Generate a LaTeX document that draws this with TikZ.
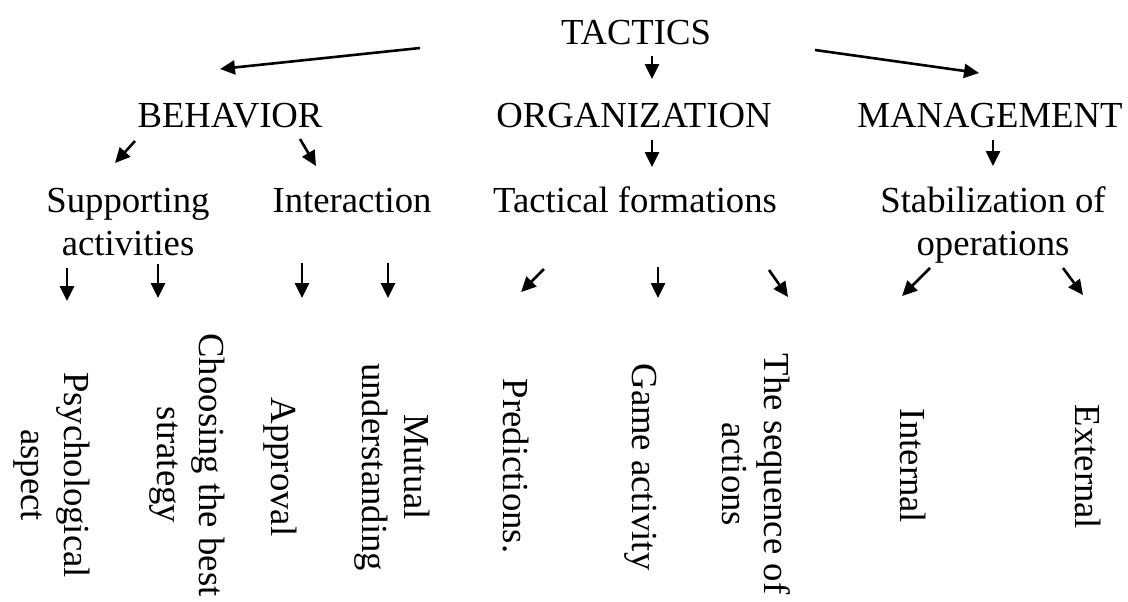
\documentclass[tikz,border=0pt]{standalone}
\usepackage{fontspec}
\setmainfont{Liberation Serif}
\usetikzlibrary{arrows.meta}
\begin{document}
\begin{tikzpicture}[x=0.5pt,y=-0.5pt,
  lbl/.style={inner sep=0pt,font=\fontsize{18.35}{21.2}\selectfont,align=center},
  vlbl/.style={lbl,rotate=-90,anchor=center},
  arr/.style={line width=1.3pt,-{Triangle[length=7.5pt,width=7pt]}}]
\useasboundingbox (0,0) rectangle (1128,601);
% level 0
\node[lbl,anchor=base] (tactics) at (636,44) {TACTICS};
% level 1
\node[lbl,anchor=base] (behavior) at (230,127) {BEHAVIOR};
\node[lbl,anchor=base] (organization) at (634,127) {ORGANIZATION};
\node[lbl,anchor=base] (management) at (990,127) {MANAGEMENT};
% level 2
\node[lbl,anchor=base] (supporting) at (128,255) {Supporting\\activities};
\node[lbl,anchor=base] (interaction) at (352,212) {Interaction};
\node[lbl,anchor=base] (formations) at (635,212) {Tactical formations};
\node[lbl,anchor=base] (stabilization) at (993,255) {Stabilization of\\operations};
% level 3 (vertical)
\node[vlbl] (psych) at (52,475) {Psychological\\aspect};
\node[vlbl] (choosing) at (187,465) {Choosing the best\\strategy};
\node[vlbl] (approval) at (280,467) {Approval};
\node[vlbl] (mutual) at (392,467) {Mutual\\understanding};
\node[vlbl] (predictions) at (516,466) {Predictions.};
\node[vlbl] (game) at (641,467) {Game activity};
\node[vlbl] (sequence) at (756,474) {The sequence of\\actions};
\node[vlbl] (internal) at (913,466) {Internal};
\node[vlbl] (external) at (1088,467) {External};
% arrow end points
\coordinate (t1s) at (420,48);  \coordinate (t1e) at (220,69);
\coordinate (t2s) at (652,56);  \coordinate (t2e) at (652,79);
\coordinate (t3s) at (815,50);  \coordinate (t3e) at (979,73);
\coordinate (b1s) at (135,141); \coordinate (b1e) at (115,163);
\coordinate (b2s) at (300,139); \coordinate (b2e) at (316,166);
\coordinate (o1s) at (652,140); \coordinate (o1e) at (652,167);
\coordinate (m1s) at (993,140); \coordinate (m1e) at (993,166);
\coordinate (s1s) at (67,268);  \coordinate (s1e) at (67,301);
\coordinate (s2s) at (158,264); \coordinate (s2e) at (158,298);
\coordinate (i1s) at (302,263); \coordinate (i1e) at (302,298);
\coordinate (i2s) at (388,263); \coordinate (i2e) at (388,298);
\coordinate (f1s) at (544,269); \coordinate (f1e) at (521,292);
\coordinate (f2s) at (658,267); \coordinate (f2e) at (658,298);
\coordinate (f3s) at (769,270); \coordinate (f3e) at (788,297);
\coordinate (st1s) at (930,268); \coordinate (st1e) at (902,296);
\coordinate (st2s) at (1063,268); \coordinate (st2e) at (1083,295);
% arrows
\draw[arr] (t1s) -- (t1e);
\draw[arr] (t2s) -- (t2e);
\draw[arr] (t3s) -- (t3e);
\draw[arr] (b1s) -- (b1e);
\draw[arr] (b2s) -- (b2e);
\draw[arr] (o1s) -- (o1e);
\draw[arr] (m1s) -- (m1e);
\draw[arr] (s1s) -- (s1e);
\draw[arr] (s2s) -- (s2e);
\draw[arr] (i1s) -- (i1e);
\draw[arr] (i2s) -- (i2e);
\draw[arr] (f1s) -- (f1e);
\draw[arr] (f2s) -- (f2e);
\draw[arr] (f3s) -- (f3e);
\draw[arr] (st1s) -- (st1e);
\draw[arr] (st2s) -- (st2e);
\end{tikzpicture}
\end{document}
